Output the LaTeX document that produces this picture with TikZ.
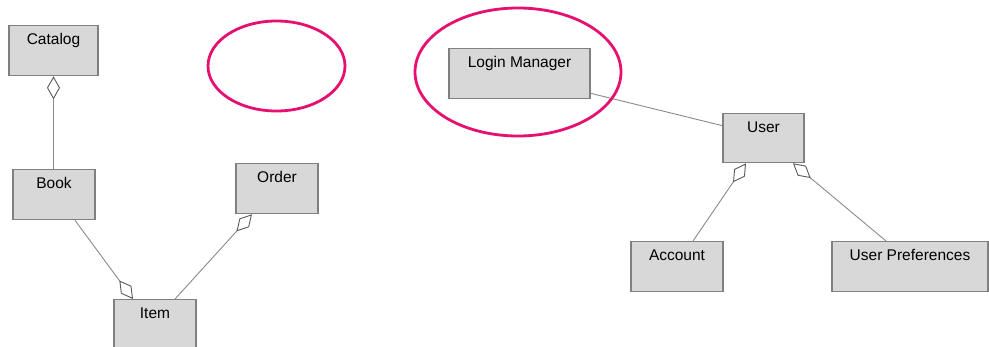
\documentclass[tikz,border=0pt]{standalone}
\usepackage{fontspec}
\setmainfont{Liberation Sans}
\usetikzlibrary{arrows.meta}
\definecolor{boxfill}{HTML}{D8D8D8}
\definecolor{boxline}{HTML}{808080}
\definecolor{linkline}{HTML}{8A8A8A}
\definecolor{tipline}{HTML}{5A5A5A}
\definecolor{markpink}{HTML}{E5106F}
\begin{document}
\begin{tikzpicture}[x=1pt,y=-1pt,
  classbox/.style={draw=boxline, fill=boxfill, line width=1.3pt, anchor=north,
    inner xsep=0pt, inner ysep=0pt, text height=19pt, text depth=31pt,
    font=\fontsize{15.5}{17}\selectfont, text=black},
  link/.style={draw=linkline, line width=0.9pt},
  agg/.style={link, -{Diamond[fill=white, color=tipline, length=23pt, width=13pt, line width=0.9pt]}},
  highlight/.style={draw=markpink, line width=2.8pt}]
\useasboundingbox (0,0) rectangle (989,346);

% classes
\node[classbox, minimum width=89pt] (Catalog) at (53.5,25) {Catalog};
\node[classbox, minimum width=82pt] (Book) at (54,169) {Book};
\node[classbox, minimum width=82pt] (Order) at (277,163) {Order};
\node[classbox, minimum width=82pt] (Item) at (155,299) {Item};
\node[classbox, minimum width=141pt] (LM) at (519.5,48) {Login Manager};
\node[classbox, minimum width=81pt, text depth=30pt] (User) at (763.5,113) {User};
\node[classbox, minimum width=92pt] (Account) at (677,241) {Account};
\node[classbox, minimum width=156pt] (Prefs) at (910,241) {User Preferences};

% associations and aggregations
\draw[agg] (Book.north -| Catalog.south) -- (Catalog.south);
\draw[agg] ([xshift=21pt]Book.south) -- ([xshift=-22pt]Item.north);
\draw[agg] ([xshift=20pt]Item.north) -- ([xshift=-25pt]Order.south);
\draw[link] ([yshift=6pt]LM.south east) -- ([yshift=12.5pt]User.west);
\draw[agg] ([xshift=16pt]Account.north) -- ([xshift=-17.5pt]User.south);
\draw[agg] ([xshift=-24pt]Prefs.north) -- ([xshift=29.5pt]User.south);

% highlight rings
\draw[highlight] (276.5,66) ellipse [x radius=68.5, y radius=45];
\draw[highlight] (518,72) ellipse [x radius=103, y radius=64];
\end{tikzpicture}
\end{document}
